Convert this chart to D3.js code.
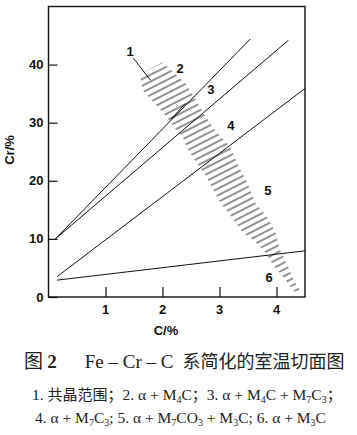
<!DOCTYPE html>
<html><head><meta charset="utf-8">
<script src="https://cdn.jsdelivr.net/npm/d3@7"></script>
<style>
html,body{margin:0;padding:0;background:#fff;}
svg{display:block;}
</style></head>
<body>
<script>
// ---- data (C %, Cr %) ----
const xTicks = [1, 2, 3, 4];
const yTicks = [0, 10, 20, 30, 40];
const lineA = [[0.12, 10], [3.54, 44.4]];
const lineB = [[0.12, 10], [4.21, 44.2]];
const lineC = [[0.15, 3.5], [4.5, 35.9]];
const lineD = [[0.15, 2.9], [4.5, 7.95]];
const tieSeg = [[2.40, 33.3], [2.15, 30.6]];
const leader1 = [[1.49, 41.1], [1.79, 37.3]];
const bandLeft = [[1.61, 38.3], [1.65, 35.6], [1.87, 33.2], [2.05, 31.3], [2.22, 29.0], [2.36, 27.5], [2.42, 25.8], [2.57, 23.5], [2.75, 21.0], [3.01, 16.3], [3.22, 13.7], [3.40, 11.2], [3.63, 9.5], [3.80, 7.7], [3.94, 5.5], [4.12, 3.4], [4.31, 0.9]];
const bandRight = [[2.00, 40.4], [2.19, 38.7], [2.40, 36.8], [2.54, 34.7], [2.71, 31.8], [2.92, 28.7], [3.19, 25.8], [3.31, 23.0], [3.49, 19.6], [3.63, 16.2], [3.84, 13.7], [3.98, 11.2], [4.06, 8.1], [4.19, 5.5], [4.32, 2.6], [4.41, 1.2]];
const regionLabels = ["1", "2", "3", "4", "5", "6"];
const regionPos = [[1.43, 42.3], [2.31, 39.3], [2.85, 35.7], [3.20, 29.6], [3.85, 18.4], [3.87, 3.4]];

const W = 357, H = 435;
const svg = d3.select("body").append("svg").attr("width", W).attr("height", H);

const x = d3.scaleLinear().domain([0, 4.5]).range([48.5, 305]);
const y = d3.scaleLinear().domain([0, 50]).range([297, 6.5]);

const defs = svg.append("defs");
const pat = defs.append("pattern").attr("id", "hatch")
  .attr("patternUnits", "userSpaceOnUse").attr("width", 12).attr("height", 6)
  .attr("patternTransform", "rotate(-27)");
pat.append("line").attr("x1", 0).attr("x2", 12).attr("y1", 3).attr("y2", 3)
  .attr("stroke", "#1a1a1a").attr("stroke-width", 0.95);

const line = d3.line().x(d => x(d[0])).y(d => y(d[1]));

// hatched band
const bandPoly = bandLeft.concat(bandRight.slice().reverse());
svg.append("path").attr("d", line(bandPoly) + "Z")
  .attr("fill", "url(#hatch)").attr("stroke", "none");

// frame
svg.append("rect").attr("x", x(0)).attr("y", y(50)).attr("width", x(4.5) - x(0)).attr("height", y(0) - y(50))
  .attr("fill", "none").attr("stroke", "#111").attr("stroke-width", 1.4);

// axes (inward ticks)
const yAxis = d3.axisRight(y).tickValues(yTicks).tickSize(9).tickFormat("");
svg.append("g").attr("transform", `translate(${x(0)},0)`).call(yAxis)
  .call(g => g.select(".domain").remove())
  .call(g => g.selectAll("line").attr("stroke", "#111").attr("stroke-width", 1.2));
const xAxis = d3.axisTop(x).tickValues(xTicks).tickSize(10).tickFormat("");
svg.append("g").attr("transform", `translate(0,${y(0)})`).call(xAxis)
  .call(g => g.select(".domain").remove())
  .call(g => g.selectAll("line").attr("stroke", "#111").attr("stroke-width", 1.2));

// tick labels
svg.append("g").selectAll("text").data(yTicks).join("text")
  .attr("x", x(0) - 5).attr("y", d => y(d)).attr("dy", "0.35em")
  .attr("text-anchor", "end").attr("font-family", "Liberation Sans, Arial, sans-serif")
  .attr("font-weight", "bold").attr("font-size", 13).attr("fill", "#111").text(d => d);
svg.append("g").selectAll("text").data(xTicks).join("text")
  .attr("x", d => x(d)).attr("y", y(0) + 17)
  .attr("text-anchor", "middle").attr("font-family", "Liberation Sans, Arial, sans-serif")
  .attr("font-weight", "bold").attr("font-size", 13).attr("fill", "#111").text(d => d);

// axis titles
svg.append("text").attr("transform", `translate(14,150) rotate(-90)`)
  .attr("text-anchor", "middle").attr("font-family", "Liberation Sans, Arial, sans-serif")
  .attr("font-weight", "bold").attr("font-size", 13).attr("fill", "#111").text("Cr/%");
svg.append("text").attr("x", 166).attr("y", 335)
  .attr("text-anchor", "middle").attr("font-family", "Liberation Sans, Arial, sans-serif")
  .attr("font-weight", "bold").attr("font-size", 13).attr("fill", "#111").text("C/%");

// boundary lines
[lineA, lineB, lineC, lineD, tieSeg, leader1].forEach(seg => {
  svg.append("path").attr("d", line(seg)).attr("fill", "none")
    .attr("stroke", "#111").attr("stroke-width", 1);
});

// region labels
svg.append("g").selectAll("text").data(regionLabels).join("text")
  .attr("x", (d, i) => x(regionPos[i][0])).attr("y", (d, i) => y(regionPos[i][1]))
  .attr("dy", "0.35em").attr("text-anchor", "middle")
  .attr("font-family", "Liberation Sans, Arial, sans-serif").attr("font-weight", "bold")
  .attr("font-size", 13).attr("fill", "#111").text(d => d);

// captions
const serif = "'Liberation Serif', 'Times New Roman', serif";
const cjk = "'Noto Sans CJK SC', sans-serif";
const cap = svg.append("text").attr("x", 24).attr("y", 368)
  .attr("font-family", serif).attr("font-size", 19).attr("fill", "#222");
cap.append("tspan").attr("font-family", cjk).attr("font-size", 19).text("图 ");
cap.append("tspan").attr("font-weight", "bold").text("2");
cap.append("tspan").attr("dx", 28).text("Fe – Cr – C");
cap.append("tspan").attr("dx", 9).attr("font-family", cjk).attr("font-size", 18).text("系简化的室温切面图");

function richLine(yPos, xPos, parts) {
  const t = svg.append("text").attr("x", xPos).attr("y", yPos)
    .attr("font-family", serif).attr("font-size", 15.5).attr("fill", "#222");
  let shift = 0;
  parts.forEach(p => {
    if (typeof p === "string") {
      t.append("tspan").attr("dy", -shift).text(p); shift = 0;
    } else if (p.cjk) {
      t.append("tspan").attr("dy", -shift).attr("font-family", cjk).attr("font-size", 15).text(p.cjk); shift = 0;
    } else if (p.sub) {
      t.append("tspan").attr("font-size", 10).attr("dy", 3 - shift).text(p.sub); shift = 3;
    }
  });
}
richLine(400, 32, ["1. ", {cjk: "共晶范围；"}, "2. α + M", {sub: "4"}, "C", {cjk: "；"}, "3. α + M", {sub: "4"}, "C + M", {sub: "7"}, "C", {sub: "3"}, {cjk: "；"}]);
richLine(423, 35, ["4. α + M", {sub: "7"}, "C", {sub: "3"}, "; 5. α + M", {sub: "7"}, "CO", {sub: "3"}, " + M", {sub: "3"}, "C; 6. α + M", {sub: "3"}, "C"]);
</script>
</body></html>
